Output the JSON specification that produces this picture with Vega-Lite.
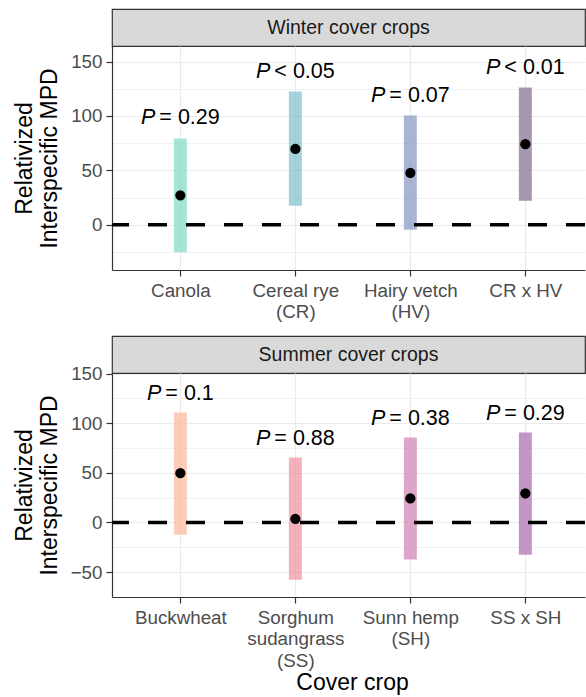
{
  "$schema": "https://vega.github.io/schema/vega-lite/v6.json",
  "autosize": {"type": "pad"},
  "padding": {"left": 13, "top": 8, "right": 0, "bottom": 0},
  "background": "white",
  "config": {
    "font": "Liberation Sans",
    "view": {"stroke": null},
    "axis": {
      "domainColor": "#333333", "domainWidth": 1.2,
      "tickColor": "#333333", "tickWidth": 1.2, "tickSize": 6,
      "labelColor": "#4d4d4d", "labelFontSize": 18.8, "labelOverlap": false,
      "gridColor": "#ebebeb",
      "titleFontWeight": "normal", "titleColor": "#000000", "titleFontSize": 23
    }
  },
  "datasets": {
    "winter": [
      {"crop": "Canola", "lower": -25.3, "upper": 79.3, "mean": 27.0, "rest": "= 0.29"},
      {"crop": "Cereal rye\n(CR)", "lower": 17.4, "upper": 122.4, "mean": 69.7, "rest": "< 0.05"},
      {"crop": "Hairy vetch\n(HV)", "lower": -4.6, "upper": 100.4, "mean": 47.7, "rest": "= 0.07"},
      {"crop": "CR x HV", "lower": 22.0, "upper": 126.1, "mean": 74.0, "rest": "< 0.01"}
    ],
    "summer": [
      {"crop": "Buckwheat", "lower": -12.5, "upper": 110.9, "mean": 49.7, "rest": "= 0.1"},
      {"crop": "Sorghum\nsudangrass\n(SS)", "lower": -57.9, "upper": 65.5, "mean": 3.6, "rest": "= 0.88"},
      {"crop": "Sunn hemp\n(SH)", "lower": -37.3, "upper": 85.7, "mean": 24.2, "rest": "= 0.38"},
      {"crop": "SS x SH", "lower": -32.7, "upper": 90.7, "mean": 29.2, "rest": "= 0.29"}
    ]
  },
  "bounds": "flush",
  "spacing": 0,
  "resolve": {"scale": {"color": "independent", "x": "independent", "y": "independent"}},
  "vconcat": [
    {
      "width": 473, "height": 37,
      "data": {"values": [{"panel": "Winter cover crops"}]},
      "view": {"fill": "#d9d9d9", "stroke": "#333333", "strokeWidth": 1.2},
      "mark": {"type": "text", "fontSize": 19.5, "color": "#1a1a1a", "baseline": "middle", "align": "center"},
      "encoding": {
        "x": {"field": "panel", "type": "nominal", "axis": null},
        "y": {"field": "panel", "type": "nominal", "axis": null},
        "text": {"field": "panel"}
      }
    },
    {
      "width": 473, "height": 224,
      "data": {"name": "winter"},
      "resolve": {"axis": {"y": "independent"}},
      "layer": [
        {
          "mark": {"type": "bar", "width": 13, "opacity": 0.7},
          "encoding": {
            "x": {"field": "crop", "type": "nominal", "sort": null, "title": null,
              "scale": {"type": "point", "padding": 0.5565, "align": 0.534, "domain": ["Canola", "Cereal rye\n(CR)", "Hairy vetch\n(HV)", "CR x HV"]},
              "axis": {"grid": true, "gridWidth": 1.2, "labelAngle": 0, "labelPadding": 5, "labelLineHeight": 21.5, "labelExpr": "split(datum.label, '\\n')", "labelOverlap": false, "labelBaseline": "top"}},
            "y": {"field": "lower", "type": "quantitative", "title": ["Relativized", "Interspecific MPD"],
              "scale": {"domain": [-41.6, 164.3], "nice": false, "zero": false},
              "axis": {"orient": "left", "values": [0, 50, 100, 150], "gridWidth": 1.2,
                "labelPadding": 4, "titlePadding": 9, "titleLineHeight": 25}},
            "y2": {"field": "upper"},
            "color": {"field": "crop", "type": "nominal", "legend": null,
              "scale": {"domain": ["Canola", "Cereal rye\n(CR)", "Hairy vetch\n(HV)", "CR x HV"], "range": ["#80dac4", "#7cbdcd", "#8695c4", "#836c8b"]}}
          }
        },
        {
          "data": {"values": [{}]},
          "mark": {"type": "rule", "strokeDash": [19, 19], "strokeWidth": 3.5, "color": "black"},
          "encoding": {"y": {"datum": 0, "type": "quantitative", "title": null,
            "axis": {"orient": "right", "values": [-25, 25, 75, 125], "grid": true, "gridWidth": 0.7, "labels": false, "ticks": false, "domain": false, "title": null}}}
        },
        {
          "mark": {"type": "circle", "size": 105, "color": "black", "opacity": 1},
          "encoding": {
            "x": {"field": "crop", "type": "nominal", "sort": null, "title": null},
            "y": {"field": "mean", "type": "quantitative", "axis": null}
          }
        },
        {
          "transform": [{"filter": "length(datum.rest) > 5"}],
          "mark": {"type": "text", "fontSize": 21.5, "fontStyle": "italic", "color": "black", "align": "right", "baseline": "middle", "dx": -25, "dy": -20},
          "encoding": {
            "x": {"field": "crop", "type": "nominal", "sort": null, "title": null},
            "y": {"field": "upper", "type": "quantitative", "axis": null},
            "text": {"value": "P"}
          }
        },
        {
          "mark": {"type": "text", "fontSize": 21.5, "color": "black", "align": "center", "baseline": "middle", "dx": 9.2, "dy": -20},
          "encoding": {
            "x": {"field": "crop", "type": "nominal", "sort": null, "title": null},
            "y": {"field": "upper", "type": "quantitative", "axis": null},
            "text": {"field": "rest"}
          }
        }
      ]
    },
    {
      "width": 473, "height": 66,
      "data": {"values": []},
      "mark": {"type": "point"},
      "encoding": {}
    },
    {
      "width": 473, "height": 37,
      "data": {"values": [{"panel": "Summer cover crops"}]},
      "view": {"fill": "#d9d9d9", "stroke": "#333333", "strokeWidth": 1.2},
      "mark": {"type": "text", "fontSize": 19.5, "color": "#1a1a1a", "baseline": "middle", "align": "center"},
      "encoding": {
        "x": {"field": "panel", "type": "nominal", "axis": null},
        "y": {"field": "panel", "type": "nominal", "axis": null},
        "text": {"field": "panel"}
      }
    },
    {
      "width": 473, "height": 224,
      "data": {"name": "summer"},
      "resolve": {"axis": {"y": "independent"}},
      "layer": [
        {
          "mark": {"type": "bar", "width": 13, "opacity": 0.7},
          "encoding": {
            "x": {"field": "crop", "type": "nominal", "sort": null, "title": "Cover crop",
              "scale": {"type": "point", "padding": 0.5565, "align": 0.534, "domain": ["Buckwheat", "Sorghum\nsudangrass\n(SS)", "Sunn hemp\n(SH)", "SS x SH"]},
              "axis": {"grid": true, "gridWidth": 1.2, "labelAngle": 0, "labelPadding": 5, "labelLineHeight": 21.5, "labelExpr": "split(datum.label, '\\n')", "labelOverlap": false, "labelBaseline": "top", "titlePadding": 2, "titleX": 240, "titleAlign": "center"}},
            "y": {"field": "lower", "type": "quantitative", "title": ["Relativized", "Interspecific MPD"],
              "scale": {"domain": [-75.2, 150.7], "nice": false, "zero": false},
              "axis": {"orient": "left", "values": [-50, 0, 50, 100, 150], "gridWidth": 1.2,
                "labelPadding": 4, "titlePadding": 9, "titleLineHeight": 25}},
            "y2": {"field": "upper"},
            "color": {"field": "crop", "type": "nominal", "legend": null,
              "scale": {"domain": ["Buckwheat", "Sorghum\nsudangrass\n(SS)", "Sunn hemp\n(SH)", "SS x SH"], "range": ["#f9b89a", "#ef8e9e", "#d080b0", "#ab6ab0"]}}
          }
        },
        {
          "data": {"values": [{}]},
          "mark": {"type": "rule", "strokeDash": [19, 19], "strokeWidth": 3.5, "color": "black"},
          "encoding": {"y": {"datum": 0, "type": "quantitative", "title": null,
            "axis": {"orient": "right", "values": [-25, 25, 75, 125], "grid": true, "gridWidth": 0.7, "labels": false, "ticks": false, "domain": false, "title": null}}}
        },
        {
          "mark": {"type": "circle", "size": 105, "color": "black", "opacity": 1},
          "encoding": {
            "x": {"field": "crop", "type": "nominal", "sort": null, "title": "Cover crop"},
            "y": {"field": "mean", "type": "quantitative", "axis": null}
          }
        },
        {
          "transform": [{"filter": "length(datum.rest) > 5"}],
          "mark": {"type": "text", "fontSize": 21.5, "fontStyle": "italic", "color": "black", "align": "right", "baseline": "middle", "dx": -25, "dy": -18},
          "encoding": {
            "x": {"field": "crop", "type": "nominal", "sort": null, "title": "Cover crop"},
            "y": {"field": "upper", "type": "quantitative", "axis": null},
            "text": {"value": "P"}
          }
        },
        {
          "transform": [{"filter": "length(datum.rest) <= 5"}],
          "mark": {"type": "text", "fontSize": 21.5, "fontStyle": "italic", "color": "black", "align": "right", "baseline": "middle", "dx": -19, "dy": -18},
          "encoding": {
            "x": {"field": "crop", "type": "nominal", "sort": null, "title": "Cover crop"},
            "y": {"field": "upper", "type": "quantitative", "axis": null},
            "text": {"value": "P"}
          }
        },
        {
          "mark": {"type": "text", "fontSize": 21.5, "color": "black", "align": "center", "baseline": "middle", "dx": 9.2, "dy": -18},
          "encoding": {
            "x": {"field": "crop", "type": "nominal", "sort": null, "title": "Cover crop"},
            "y": {"field": "upper", "type": "quantitative", "axis": null},
            "text": {"field": "rest"}
          }
        }
      ]
    }
  ]
}
